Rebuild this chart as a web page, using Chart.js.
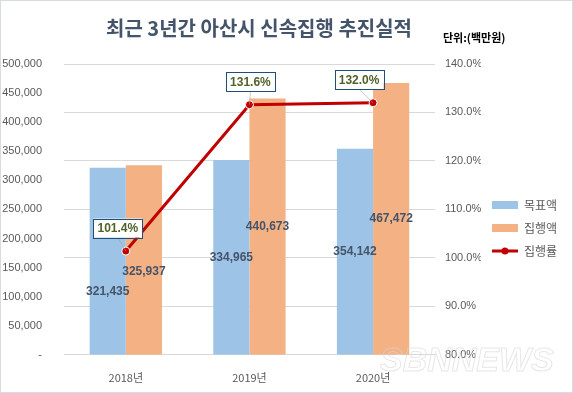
<!DOCTYPE html>
<html>
<head>
<meta charset="utf-8">
<script src="https://cdn.jsdelivr.net/npm/chart.js@4/dist/chart.umd.min.js"></script>
<style>
  html, body { margin: 0; padding: 0; background: #fff; }
  #wrap { width: 573px; height: 393px; position: relative; }
</style>
</head>
<body>
<div id="wrap"><canvas id="chartSpeed" width="573" height="393"></canvas></div>
<script>
const years = ["2018년", "2019년", "2020년"];
const targetAmounts = [321435, 334965, 354142];
const spentAmounts = [325937, 440673, 467472];
const spentRates = [101.4, 131.6, 132.0];

const KR_FONT = "'Noto Sans CJK KR', 'Noto Sans', sans-serif";
const TEXT_GRAY = "#595959";
const BLUE = "#9DC3E6";
const ORANGE = "#F4B183";
const RED = "#C00000";

// legend swatches (line with dot for the rate)
const makeSwatch = (kind, color) => {
    const c = document.createElement("canvas");
    c.width = 26;
    c.height = 8;
    const g = c.getContext("2d");
    if (kind === "bar") {
        g.fillStyle = color;
        g.fillRect(0, 0, 26, 8);
    } else {
        g.strokeStyle = color;
        g.lineWidth = 3;
        g.beginPath();
        g.moveTo(0, 4);
        g.lineTo(26, 4);
        g.stroke();
        g.fillStyle = color;
        g.beginPath();
        g.arc(13, 4, 3.5, 0, Math.PI * 2);
        g.fill();
    }
    return c;
};

const fmt = v => v.toLocaleString("en-US");

// title, unit text, frame, watermark and data labels
const decorPlugin = {
    id: "decor",
    beforeDraw(chart) {
        const ctx = chart.ctx;
        ctx.save();
        ctx.fillStyle = "#fff";
        ctx.fillRect(0, 0, chart.width, chart.height);
        ctx.strokeStyle = "#D6DCE4";
        ctx.lineWidth = 1;
        ctx.strokeRect(0.5, 0.5, chart.width - 1, chart.height - 1);
        ctx.restore();
    },
    afterDraw(chart) {
        const ctx = chart.ctx;
        ctx.save();
        ctx.textBaseline = "middle";

        // title
        ctx.fillStyle = "#44546A";
        ctx.font = "bold 20px " + KR_FONT;
        ctx.textAlign = "center";
        ctx.fillText("최근 3년간 아산시 신속집행 추진실적", 259, 28);

        ctx.fillStyle = "#000";
        ctx.font = "bold 11px " + KR_FONT;
        ctx.textAlign = "left";
        ctx.fillText("단위:(백만원)", 443, 38);

        // watermark
        ctx.font = "italic bold 34px 'Liberation Sans', sans-serif";
        ctx.strokeStyle = "rgba(215,215,215,0.6)";
        ctx.lineWidth = 1;
        ctx.textAlign = "left";
        ctx.strokeText("SBNNEWS", 380, 362);

        // bar labels
        ctx.font = "bold 12px 'Liberation Sans', sans-serif";
        ctx.fillStyle = "#44546A";
        ctx.textAlign = "center";
        [0, 1].forEach(di => {
            const meta = chart.getDatasetMeta(di);
            const vals = chart.data.datasets[di].data;
            meta.data.forEach((bar, i) => {
                let y = (bar.y + bar.base) / 2;
                if (i === 0) y += di === 0 ? 30 : 12; // Excel moved these off the line label
                ctx.fillText(fmt(vals[i]), bar.x, y);
            });
        });

        // line labels in boxes
        const lineMeta = chart.getDatasetMeta(2);
        const shiftX = [-8, 1, -14];
        lineMeta.data.forEach((pt, i) => {
            const txt = spentRates[i].toFixed(1) + "%";
            const bx = pt.x + shiftX[i];
            const by = pt.y - 23;
            const w = 49, h = 19;
            ctx.strokeStyle = "#A6A6A6";
            ctx.lineWidth = 0.6;
            ctx.beginPath();
            ctx.moveTo(bx, by + h / 2);
            ctx.lineTo(pt.x, pt.y);
            ctx.stroke();
            ctx.fillStyle = "#fff";
            ctx.fillRect(bx - w / 2, by - h / 2, w, h);
            ctx.strokeStyle = "#1F4E79";
            ctx.lineWidth = 1;
            ctx.strokeRect(Math.round(bx - w / 2) + 0.5, Math.round(by - h / 2) + 0.5, w, h);
            ctx.fillStyle = "#4F6228";
            ctx.font = "bold 12px 'Liberation Sans', sans-serif";
            ctx.fillText(txt, bx, by + 1);
        });
        ctx.restore();
    }
};

new Chart(document.getElementById("chartSpeed"), {
    data: {
        labels: years,
        datasets: [
            {
                type: "bar",
                label: "목표액",
                data: targetAmounts,
                backgroundColor: BLUE,
                yAxisID: "y",
                barPercentage: 1,
                categoryPercentage: 0.585,
                order: 2
            },
            {
                type: "bar",
                label: "집행액",
                data: spentAmounts,
                backgroundColor: ORANGE,
                yAxisID: "y",
                barPercentage: 1,
                categoryPercentage: 0.585,
                order: 2
            },
            {
                type: "line",
                label: "집행률",
                data: spentRates,
                borderColor: RED,
                borderWidth: 3,
                pointRadius: 4,
                pointBackgroundColor: RED,
                pointBorderColor: "#fff",
                pointBorderWidth: 1,
                yAxisID: "y1",
                order: 1
            }
        ]
    },
    options: {
        responsive: false,
        animation: false,
        layout: { padding: { top: 64, bottom: 1, left: 0, right: 6 } },
        plugins: {
            title: { display: false },
            tooltip: { enabled: false },
            legend: {
                position: "right",
                labels: {
                    usePointStyle: true,
                    pointStyleWidth: 26,
                    boxHeight: 8,
                    padding: 11,
                    color: TEXT_GRAY,
                    font: { family: KR_FONT, size: 12 },
                    generateLabels: chart => chart.data.datasets.map((ds, i) => ({
                        text: ds.label,
                        datasetIndex: i,
                        pointStyle: makeSwatch(ds.type === "line" ? "line" : "bar", ds.type === "line" ? RED : ds.backgroundColor),
                        fillStyle: "transparent",
                        strokeStyle: "transparent",
                        lineWidth: 0,
                        fontColor: TEXT_GRAY
                    }))
                }
            }
        },
        scales: {
            x: {
                grid: { display: false },
                border: { display: false },
                ticks: { color: TEXT_GRAY, font: { family: KR_FONT, size: 11 }, padding: 8 }
            },
            y: {
                position: "left",
                min: 0,
                max: 500000,
                afterFit: s => { s.width = 64; },
                grid: { display: false },
                border: { display: false },
                ticks: {
                    stepSize: 50000,
                    padding: 14,
                    color: TEXT_GRAY,
                    font: { family: "'Liberation Sans', sans-serif", size: 11 },
                    callback: v => v === 0 ? "-" : fmt(v)
                }
            },
            y1: {
                position: "right",
                min: 80,
                max: 140,
                afterFit: s => { s.width = 46; },
                grid: { color: "#D9D9D9", drawTicks: false },
                border: { display: false },
                ticks: {
                    stepSize: 10,
                    padding: 10,
                    color: TEXT_GRAY,
                    font: { family: "'Liberation Sans', sans-serif", size: 11 },
                    callback: v => v.toFixed(1) + "%"
                }
            }
        }
    },
    plugins: [decorPlugin]
});
</script>
</body>
</html>
